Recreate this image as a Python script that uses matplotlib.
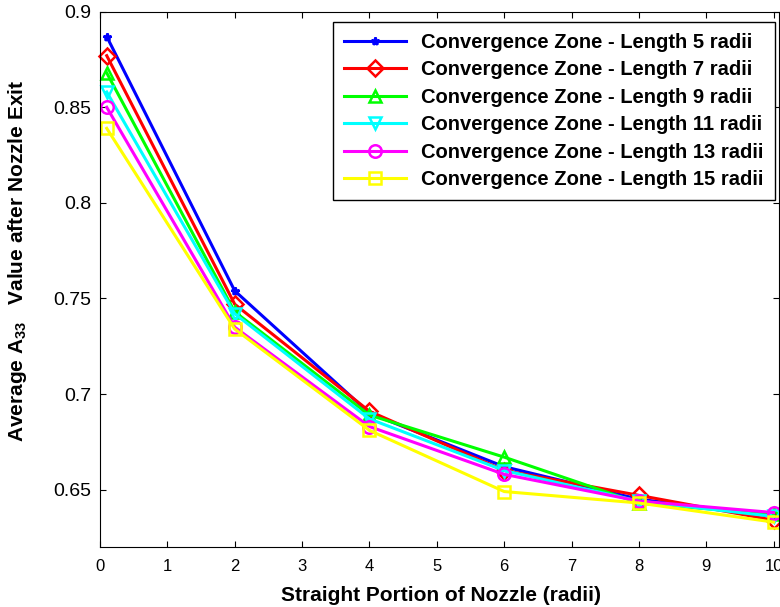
import matplotlib
matplotlib.use("Agg")
import matplotlib.pyplot as plt

plt.rcParams['font.family'] = ['Liberation Sans', 'DejaVu Sans']
plt.rcParams['mathtext.fontset'] = 'custom'
plt.rcParams['mathtext.rm'] = 'Liberation Sans:bold'
plt.rcParams['mathtext.bf'] = 'Liberation Sans:bold'
plt.rcParams['mathtext.default'] = 'bf'

x = [0.1, 2, 4, 6, 8, 10]

len5 = [0.887, 0.754, 0.690, 0.662, 0.645, 0.636]
len7 = [0.877, 0.747, 0.691, 0.660, 0.647, 0.634]
len9 = [0.868, 0.743, 0.689, 0.667, 0.643, 0.637]
len11 = [0.858, 0.742, 0.687, 0.660, 0.644, 0.636]
len13 = [0.850, 0.735, 0.683, 0.658, 0.644, 0.638]
len15 = [0.839, 0.734, 0.681, 0.649, 0.643, 0.633]

labels = ['Convergence Zone - Length 5 radii',
          'Convergence Zone - Length 7 radii',
          'Convergence Zone - Length 9 radii',
          'Convergence Zone - Length 11 radii',
          'Convergence Zone - Length 13 radii',
          'Convergence Zone - Length 15 radii']

fig = plt.figure(figsize=(7.8, 6.07), dpi=100)
ax = fig.add_axes([0.1282, 0.0989, 0.8705, 0.8818])

# (series, colour, marker, marker size) - matlab style pure colours
styles = [(len5, (0, 0, 1), '*', 6),
          (len7, (1, 0, 0), 'D', 8),
          (len9, (0, 1, 0), '^', 9),
          (len11, (0, 1, 1), 'v', 9),
          (len13, (1, 0, 1), 'o', 9),
          (len15, (1, 1, 0), 's', 9)]

for (y, c, m, ms), lab in zip(styles, labels):
    ax.plot(x, y, color=c, marker=m, markersize=ms, markerfacecolor='none',
            markeredgewidth=1.8, linewidth=2.2, label=lab, clip_on=False)

ax.set_xlim(0, 10.08)
ax.set_ylim(0.62, 0.9)
ax.set_xticks(range(0, 11))
ax.set_yticks([0.65, 0.7, 0.75, 0.8, 0.85, 0.9])
ax.set_yticklabels(['0.65', '0.7', '0.75', '0.8', '0.85', '0.9'])
ax.tick_params(direction='in', top=True, right=True, length=4)
ax.tick_params(axis='x', labelsize=12, pad=9)
ax.tick_params(axis='y', labelsize=14, pad=6)

ax.set_xlabel('Straight Portion of Nozzle (radii)', fontsize=15, fontweight='bold')
ax.xaxis.set_label_coords(0.502, -0.073)
ax.set_ylabel(r'Average A$_{33}$   Value after Nozzle Exit', fontsize=15, fontweight='bold')
ax.yaxis.set_label_coords(-0.105, 0.535)

leg = ax.legend(loc='upper right', bbox_to_anchor=(0.994, 0.981), borderaxespad=0,
                fancybox=False, edgecolor='black', framealpha=1,
                prop={'weight': 'bold', 'size': 14.5},
                handlelength=3.1, handletextpad=0.75, labelspacing=0.42, borderpad=0.55)
leg.get_frame().set_linewidth(1.0)

fig.savefig('out.png', dpi=100)
